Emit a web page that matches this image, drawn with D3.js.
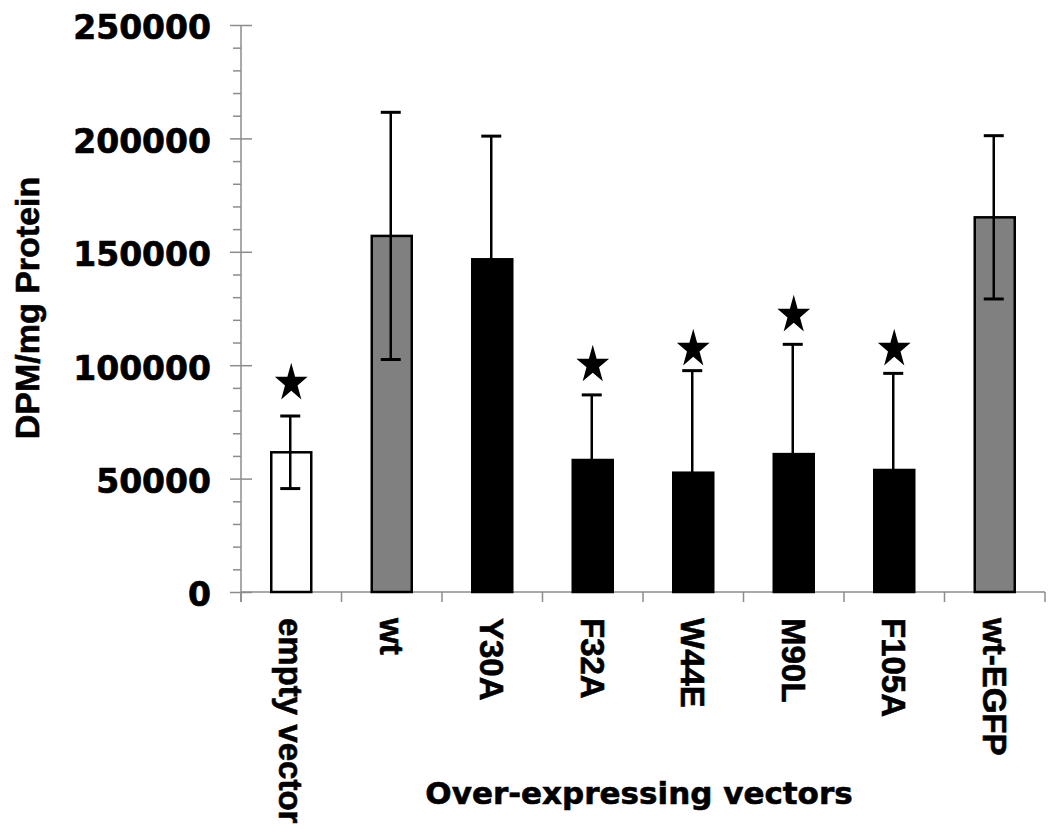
<!DOCTYPE html>
<html>
<head>
<meta charset="utf-8">
<script src="https://cdn.jsdelivr.net/npm/d3@7"></script>
<style>
  html, body { margin: 0; padding: 0; background: #fff; }
  svg { display: block; }
</style>
</head>
<body>
<svg id="chart" width="1050" height="829"></svg>
<script>
// ---- Data ----
const categories = ["empty vector", "wt", "Y30A", "F32A", "W44E", "M90L", "F105A", "wt-EGFP"];
const means      = [61600, 157000, 146700, 58200, 52600, 60800, 53800, 165200];
const errors     = [16000, 54500, 54300, 28700, 45000, 48400, 42600, 36000];
const groups     = ["control", "wt", "mutant", "mutant", "mutant", "mutant", "mutant", "wt"];
const starValues = [92150, null, null, 100100, 107100, 122100, 107100, null];
const yTicks     = [0, 50000, 100000, 150000, 200000, 250000];
const yMinorTicks = d3.range(0, 250001, 10000).filter(v => v % 50000 !== 0);
const yTitle = "DPM/mg Protein";
const xTitle = "Over-expressing vectors";

// ---- Layout / style ----
const plotLeft = 241, plotRight = 1045, plotTop = 25, plotBottom = 592;
const fillFor = { control: "#ffffff", wt: "#808080", mutant: "#000000" };
const axisColor = "#8c8c8c";
const barW = 40;

const svg = d3.select("#chart");

const x = d3.scaleBand().domain(categories).range([plotLeft, plotRight]).padding(0);
const y = d3.scaleLinear().domain([0, 250000]).range([plotBottom, plotTop]);

const data = categories.map((c, i) => ({
  c, mean: means[i], err: errors[i], group: groups[i], star: starValues[i]
}));

// ---- Y axis ----
const yAxisG = svg.append("g").attr("transform", `translate(${plotLeft},0)`)
  .call(d3.axisLeft(y).tickValues(yTicks).tickSize(11).tickPadding(19).tickFormat(d3.format("d")));
yAxisG.select(".domain").remove();
yAxisG.selectAll(".tick line").attr("stroke", axisColor).attr("stroke-width", 1.5);
yAxisG.selectAll(".tick text")
  .attr("font-family", "'DejaVu Sans', Verdana, sans-serif")
  .attr("font-weight", "bold")
  .attr("font-size", 33)
  .attr("fill", "#000")
  .attr("stroke", "#000")
  .attr("stroke-width", 0.7)
  .attr("dy", "0.42em");

// right half of major ticks
const yAxisR = svg.append("g").attr("transform", `translate(${plotLeft},0)`)
  .call(d3.axisRight(y).tickValues(yTicks).tickSize(11).tickFormat(""));
yAxisR.select(".domain").remove();
yAxisR.selectAll(".tick line").attr("stroke", axisColor).attr("stroke-width", 1.5);

// minor ticks
const yMinor = svg.append("g").attr("transform", `translate(${plotLeft},0)`)
  .call(d3.axisLeft(y).tickValues(yMinorTicks).tickSize(8).tickFormat(""));
yMinor.select(".domain").remove();
yMinor.selectAll(".tick line").attr("stroke", axisColor).attr("stroke-width", 1.5);

// y axis line
svg.append("line")
  .attr("x1", plotLeft).attr("x2", plotLeft)
  .attr("y1", y(250000)).attr("y2", plotBottom + 10)
  .attr("stroke", axisColor).attr("stroke-width", 1.5);

// ---- X axis ----
svg.append("line")
  .attr("x1", plotLeft).attr("x2", plotRight)
  .attr("y1", plotBottom).attr("y2", plotBottom)
  .attr("stroke", axisColor).attr("stroke-width", 1.5);

const boundaries = categories.map(c => x(c)).concat([x(categories[categories.length - 1]) + x.bandwidth()]);
svg.append("g").selectAll("line").data(boundaries).join("line")
  .attr("x1", d => d).attr("x2", d => d)
  .attr("y1", plotBottom).attr("y2", plotBottom + 10)
  .attr("stroke", axisColor).attr("stroke-width", 1.5);

const xAxisG = svg.append("g").attr("transform", `translate(0,${plotBottom})`)
  .call(d3.axisBottom(x).tickSize(0));
xAxisG.select(".domain").remove();
xAxisG.selectAll(".tick text")
  .attr("font-family", "'Liberation Sans', Arial, sans-serif")
  .attr("font-weight", "bold")
  .attr("font-size", 33)
  .attr("fill", "#000")
  .attr("stroke", "#000")
  .attr("stroke-width", 0.6)
  .attr("text-anchor", "start")
  .attr("transform", "rotate(90)")
  .attr("x", 26)
  .attr("y", 0)
  .attr("dy", "0.36em");

// ---- Bars ----
svg.append("g").selectAll("rect").data(data).join("rect")
  .attr("x", d => x(d.c) + x.bandwidth() / 2 - barW / 2)
  .attr("y", d => y(d.mean))
  .attr("width", barW)
  .attr("height", d => y(0) - y(d.mean))
  .attr("fill", d => fillFor[d.group])
  .attr("stroke", "#000")
  .attr("stroke-width", 2.5);

// ---- Error bars ----
const capW = 20;
const eb = svg.append("g").selectAll("g").data(data).join("g")
  .attr("transform", d => `translate(${x(d.c) + x.bandwidth() / 2 - 1},0)`);
eb.append("line")
  .attr("x1", 0).attr("x2", 0)
  .attr("y1", d => y(d.mean + d.err)).attr("y2", d => y(d.mean - d.err))
  .attr("stroke", "#000").attr("stroke-width", 2.5);
eb.append("line")
  .attr("x1", -capW / 2).attr("x2", capW / 2)
  .attr("y1", d => y(d.mean + d.err)).attr("y2", d => y(d.mean + d.err))
  .attr("stroke", "#000").attr("stroke-width", 3);
eb.append("line")
  .attr("x1", -capW / 2).attr("x2", capW / 2)
  .attr("y1", d => y(d.mean - d.err)).attr("y2", d => y(d.mean - d.err))
  .attr("stroke", "#000").attr("stroke-width", 3);

// ---- Significance stars ----
const starPath = d3.symbol().type(d3.symbolStar).size(460)();
svg.append("g").selectAll("path").data(data.filter(d => d.star !== null)).join("path")
  .attr("d", starPath)
  .attr("transform", d => `translate(${x(d.c) + x.bandwidth() / 2},${y(d.star)}) scale(0.85,1)`)
  .attr("fill", "#000");

// ---- Titles ----
svg.append("text")
  .attr("transform", `translate(39,308) rotate(-90)`)
  .attr("text-anchor", "middle")
  .attr("font-family", "'Liberation Sans', Arial, sans-serif")
  .attr("font-weight", "bold")
  .attr("font-size", 34)
  .attr("fill", "#000")
  .attr("stroke", "#000")
  .attr("stroke-width", 0.6)
  .text(yTitle);

svg.append("text")
  .attr("x", 639).attr("y", 804)
  .attr("text-anchor", "middle")
  .attr("font-family", "'DejaVu Sans', Verdana, sans-serif")
  .attr("font-weight", "bold")
  .attr("font-size", 31)
  .attr("fill", "#000")
  .attr("stroke", "#000")
  .attr("stroke-width", 0.6)
  .text(xTitle);
</script>
</body>
</html>
